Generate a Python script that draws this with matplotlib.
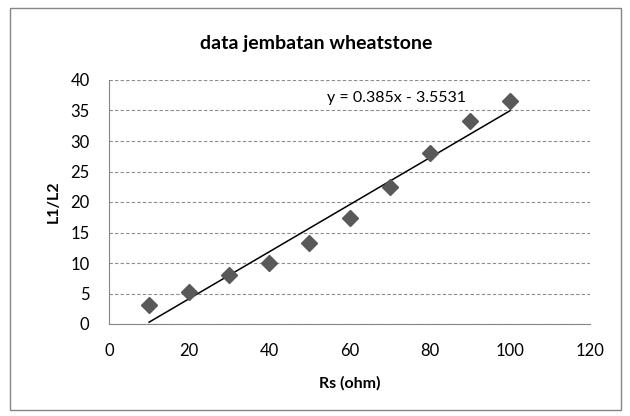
import matplotlib.pyplot as plt
import numpy as np
from matplotlib.patches import Rectangle

plt.rcParams['font.family'] = ['Lato', 'DejaVu Sans']

rs = [10, 20, 30, 40, 50, 60, 70, 80, 90, 100]
l1_l2 = [3.1, 5.2, 8.0, 10.0, 13.2, 17.3, 22.5, 28.0, 33.2, 36.5]
slope = 0.385
intercept = -3.5531

fig = plt.figure(figsize=(6.3, 4.16), dpi=100)
fig.patches.append(Rectangle((10 / 630, 1 - 410 / 416), 611 / 630, 402 / 416,
                             transform=fig.transFigure, fill=False,
                             edgecolor='#868686', linewidth=1))

ax = fig.add_axes([109 / 630, 1 - 324 / 416, 481 / 630, 244 / 416])

# trendline
xl = np.array([rs[0], rs[-1]])
ax.plot(xl, slope * xl + intercept, color='black', linewidth=1.1, zorder=2)
ax.plot(rs, l1_l2, linestyle='none', marker='D', markersize=8,
        color='#595959', zorder=3)
ax.text(54.5, 37.1, 'y = %.3fx - %.4f' % (slope, -intercept), fontsize=11.5,
        va='center', ha='left')

ax.set_xlim(0, 120)
ax.set_ylim(0, 40)
ax.set_xticks(range(0, 121, 20))
ax.set_yticks(range(0, 41, 5))
ax.tick_params(axis='x', length=0, labelsize=12, pad=14)
ax.tick_params(axis='y', length=0, labelsize=12, pad=14)
ax.yaxis.grid(True, linestyle=(0, (3, 2)), color='#8c8c8c', linewidth=0.8)
ax.set_axisbelow(True)
for s in ['top', 'right']:
    ax.spines[s].set_visible(False)
for s in ['left', 'bottom']:
    ax.spines[s].set_color('#868686')

fig.text(316 / 630, 1 - 43 / 416, 'data jembatan wheatstone', fontsize=14,
         fontweight='bold', ha='center', va='center')
ax.set_xlabel('Rs (ohm)', fontsize=11.5, fontweight='bold', labelpad=12)
ax.set_ylabel('L1/L2', fontsize=11.5, fontweight='bold', labelpad=7)

fig.savefig('out.png', dpi=100)
